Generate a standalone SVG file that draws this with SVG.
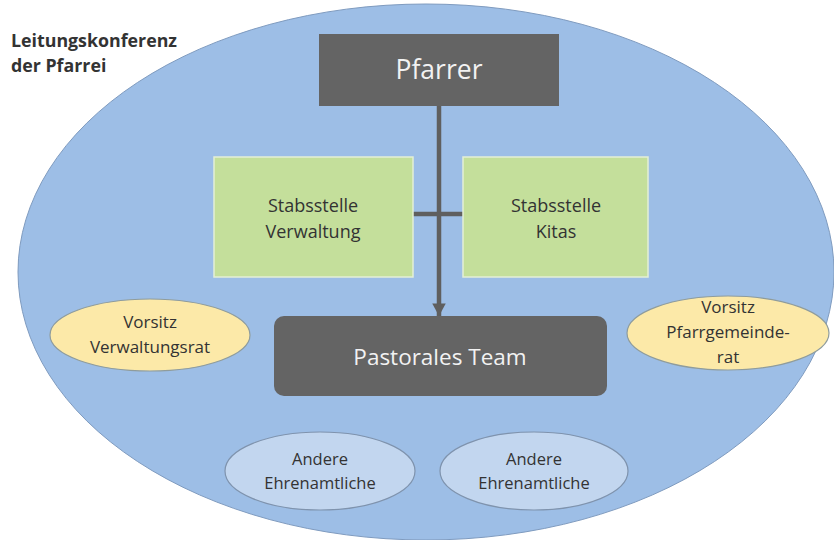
<svg xmlns="http://www.w3.org/2000/svg" width="834" height="540" viewBox="0 0 834 540">
  <defs>
    <style>
      .lbl { font-family: "Open Sans", Lato, "Liberation Sans", sans-serif; text-anchor: middle; font-weight: 500; }
      .dark { fill: #333333; }
      .light { fill: #f2f2f2; }
      .grey-box { fill: #646464; }
      .green-box { fill: #c4df9b; stroke: #e3efd6; stroke-width: 1.5; }
      .yellow { fill: #fce9a8; stroke: #8f9c9c; stroke-width: 1.2; }
      .pale { fill: #c2d6ef; stroke: #7f93ad; stroke-width: 1.2; }
      .link { stroke: #5f5f5f; stroke-width: 4.5; fill: none; }
    </style>
    <marker id="arrow" markerWidth="3" markerHeight="3" refX="2.8" refY="1.5" orient="auto" markerUnits="strokeWidth">
      <path d="M0,0 L2.8,1.5 L0,3 Z" fill="#5f5f5f"/>
    </marker>
  </defs>

  <rect width="834" height="540" fill="#ffffff"/>

  <!-- outer frame -->
  <g id="frame">
    <ellipse cx="426" cy="272" rx="408" ry="268" fill="#9dbee6" stroke="#7f9bbf" stroke-width="1"/>
    <text class="lbl dark" x="11" y="47" font-size="17.8" font-weight="bold" style="text-anchor:start;font-weight:bold">Leitungskonferenz</text>
    <text class="lbl dark" x="11" y="72" font-size="17.8" font-weight="bold" style="text-anchor:start;font-weight:bold">der Pfarrei</text>
  </g>

  <!-- connectors -->
  <g id="connectors">
    <line class="link" x1="439" y1="106" x2="439" y2="316" marker-end="url(#arrow)"/>
    <line class="link" x1="413" y1="214" x2="463" y2="214"/>
  </g>

  <g id="pfarrer">
    <rect class="grey-box" x="319" y="34" width="240" height="72"/>
    <text class="lbl light" x="439" y="79" font-size="26.5">Pfarrer</text>
  </g>

  <g id="stab-verwaltung">
    <rect class="green-box" x="214" y="157" width="199" height="120"/>
    <text class="lbl dark" x="313" y="212" font-size="18">Stabsstelle</text>
    <text class="lbl dark" x="313" y="238" font-size="18">Verwaltung</text>
  </g>

  <g id="stab-kitas">
    <rect class="green-box" x="463" y="157" width="185" height="120"/>
    <text class="lbl dark" x="556" y="212" font-size="18">Stabsstelle</text>
    <text class="lbl dark" x="556" y="238" font-size="18">Kitas</text>
  </g>

  <g id="pastorales-team">
    <rect class="grey-box" x="274" y="316" width="333" height="80" rx="10" ry="10"/>
    <text class="lbl light" x="440" y="365" font-size="22.5">Pastorales Team</text>
  </g>

  <g id="vorsitz-verwaltungsrat">
    <ellipse class="yellow" cx="150" cy="335" rx="100" ry="36"/>
    <text class="lbl dark" x="150" y="328" font-size="17">Vorsitz</text>
    <text class="lbl dark" x="150" y="353" font-size="17">Verwaltungsrat</text>
  </g>

  <g id="vorsitz-pfarrgemeinderat">
    <ellipse class="yellow" cx="728" cy="333" rx="101" ry="37"/>
    <text class="lbl dark" x="728" y="313" font-size="17">Vorsitz</text>
    <text class="lbl dark" x="728" y="338" font-size="17">Pfarrgemeinde-</text>
    <text class="lbl dark" x="728" y="363" font-size="17">rat</text>
  </g>

  <g id="ehrenamtliche-1">
    <ellipse class="pale" cx="320" cy="471" rx="95" ry="39"/>
    <text class="lbl dark" x="320" y="465" font-size="16.5">Andere</text>
    <text class="lbl dark" x="320" y="489" font-size="16.5">Ehrenamtliche</text>
  </g>

  <g id="ehrenamtliche-2">
    <ellipse class="pale" cx="534" cy="471" rx="94" ry="39"/>
    <text class="lbl dark" x="534" y="465" font-size="16.5">Andere</text>
    <text class="lbl dark" x="534" y="489" font-size="16.5">Ehrenamtliche</text>
  </g>
</svg>
